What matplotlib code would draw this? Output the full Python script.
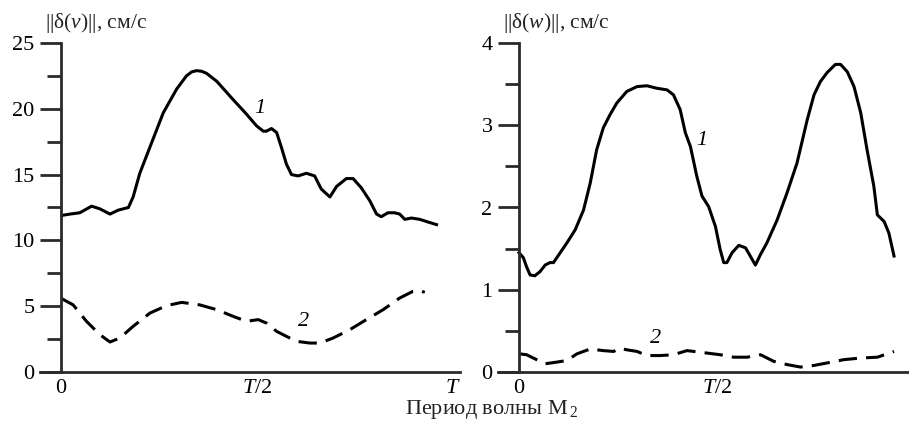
import matplotlib.pyplot as plt
from matplotlib.ticker import MultipleLocator, FixedLocator

plt.rcParams['font.family'] = ['Liberation Serif', 'DejaVu Serif']
plt.rcParams['mathtext.fontset'] = 'custom'
plt.rcParams['mathtext.rm'] = 'Liberation Serif'
plt.rcParams['mathtext.it'] = 'Liberation Serif:italic'

# phase of the M2 period (0..1 -> 0..T)
v1_t = [0.002, 0.023, 0.048, 0.078, 0.099, 0.125, 0.146, 0.172, 0.184, 0.201, 0.227,
        0.261, 0.295, 0.320, 0.333, 0.346, 0.359, 0.371, 0.397, 0.439, 0.473, 0.499,
        0.516, 0.524, 0.537, 0.550, 0.562, 0.575, 0.588, 0.605, 0.626, 0.647, 0.664,
        0.686, 0.703, 0.728, 0.745, 0.766, 0.788, 0.805, 0.817, 0.834, 0.851, 0.864,
        0.877, 0.894, 0.915, 0.936, 0.958]
v1 = [11.9, 12.0, 12.1, 12.6, 12.4, 12.0, 12.3, 12.5, 13.3, 15.1, 17.1,
      19.7, 21.5, 22.5, 22.8, 22.9, 22.85, 22.7, 22.1, 20.7, 19.6, 18.7,
      18.3, 18.3, 18.5, 18.2, 17.1, 15.8, 15.0, 14.9, 15.1, 14.9, 13.9,
      13.3, 14.1, 14.7, 14.7, 14.0, 13.0, 12.0, 11.8, 12.1, 12.1, 12.0,
      11.6, 11.7, 11.6, 11.4, 11.2]

v2_t = [0.002, 0.031, 0.065, 0.099, 0.125, 0.150, 0.184, 0.227, 0.269, 0.308, 0.354,
        0.397, 0.439, 0.473, 0.503, 0.524, 0.550, 0.575, 0.601, 0.635, 0.660, 0.694,
        0.737, 0.779, 0.822, 0.864, 0.898, 0.915, 0.928]
v2 = [5.57, 5.1, 3.85, 2.84, 2.28, 2.58, 3.47, 4.48, 5.04, 5.29, 5.1,
      4.74, 4.23, 3.85, 3.98, 3.72, 3.09, 2.71, 2.33, 2.2, 2.2, 2.58,
      3.22, 3.98, 4.74, 5.62, 6.13, 6.2, 6.05]

w1_t = [0.0, 0.011, 0.019, 0.028, 0.040, 0.053, 0.066, 0.078, 0.087, 0.104, 0.121,
        0.142, 0.163, 0.180, 0.196, 0.213, 0.230, 0.247, 0.272, 0.298, 0.323, 0.348,
        0.374, 0.390, 0.407, 0.420, 0.433, 0.449, 0.462, 0.479, 0.496, 0.508, 0.517,
        0.525, 0.538, 0.555, 0.572, 0.584, 0.597, 0.610, 0.626, 0.652, 0.677, 0.702,
        0.728, 0.745, 0.761, 0.778, 0.799, 0.812, 0.829, 0.846, 0.863, 0.879, 0.896,
        0.905, 0.922, 0.934, 0.947]
w1 = [1.45, 1.39, 1.28, 1.18, 1.17, 1.22, 1.30, 1.33, 1.33, 1.45, 1.57,
      1.73, 1.97, 2.30, 2.70, 2.97, 3.13, 3.27, 3.41, 3.47, 3.48, 3.45,
      3.43, 3.37, 3.19, 2.91, 2.74, 2.38, 2.14, 2.01, 1.77, 1.49, 1.33,
      1.33, 1.45, 1.54, 1.51, 1.41, 1.30, 1.43, 1.57, 1.85, 2.18, 2.54,
      3.07, 3.37, 3.53, 3.64, 3.74, 3.74, 3.65, 3.47, 3.15, 2.70, 2.26,
      1.91, 1.83, 1.69, 1.41]

w2_t = [0.003, 0.019, 0.036, 0.066, 0.095, 0.121, 0.146, 0.180, 0.213, 0.239, 0.255,
        0.272, 0.298, 0.323, 0.357, 0.390, 0.424, 0.441, 0.475, 0.508, 0.542, 0.576,
        0.610, 0.643, 0.677, 0.711, 0.745, 0.778, 0.820, 0.863, 0.905, 0.947]
w2 = [0.22, 0.21, 0.17, 0.10, 0.12, 0.14, 0.22, 0.28, 0.26, 0.25, 0.29,
      0.27, 0.25, 0.20, 0.20, 0.21, 0.26, 0.25, 0.23, 0.21, 0.18, 0.18,
      0.21, 0.13, 0.09, 0.06, 0.08, 0.11, 0.15, 0.17, 0.18, 0.25]

xticks = [0, 0.5, 1.0]
xticklabels = ['0', '$T$/2', '$T$']

W, H = 909, 423
fig = plt.figure(figsize=(W / 100, H / 100), dpi=100)

axis_col = '#2a2a2a'
fs = 16


def setup(ax, ymax, major, minor, ylabel, px_unit, left_px, right_px):
    ax.set_xlim(-left_px / px_unit, right_px / px_unit)
    ax.set_ylim(0, ymax)
    for s in ['top', 'right']:
        ax.spines[s].set_visible(False)
    ax.spines['left'].set_position(('data', 0))
    for s in ['left', 'bottom']:
        ax.spines[s].set_linewidth(2.0)
        ax.spines[s].set_color(axis_col)
    ax.yaxis.set_major_locator(MultipleLocator(major))
    ax.yaxis.set_minor_locator(MultipleLocator(minor))
    ax.tick_params(axis='y', which='major', length=15, width=2.0, color=axis_col,
                   labelsize=fs, pad=4)
    ax.tick_params(axis='y', which='minor', length=10, width=2.0, color=axis_col)
    ax.xaxis.set_major_locator(FixedLocator(xticks))
    ax.set_xticklabels(xticklabels)
    ax.tick_params(axis='x', length=0, labelsize=fs, pad=5)
    ax.text(0.012, 1.025, ylabel, transform=ax.transAxes, fontsize=fs - 0.5,
            ha='left', va='bottom', color='#222222')


ax1 = fig.add_axes([40 / W, 51 / H, 420 / W, 329 / H])
setup(ax1, 25, 5, 2.5, '||δ($v$)||, см/с', 392, 21, 399)
ax1.plot(v1_t, v1, color='black', lw=2.2, solid_joinstyle='round')
ax1.plot(v2_t, v2, color='black', lw=2.2, dashes=(6, 3))
ax1.text(0.507, 20.05, '1', fontsize=fs, style='italic', ha='center', va='center')
ax1.text(0.618, 3.85, '2', fontsize=fs, style='italic', ha='center', va='center')

ax2 = fig.add_axes([498 / W, 51 / H, 424 / W, 329 / H])
setup(ax2, 4, 1, 0.5, '||δ($w$)||, см/с', 396, 21, 403)
ax2.plot(w1_t, w1, color='black', lw=2.2, solid_joinstyle='round')
ax2.plot(w2_t, w2, color='black', lw=2.2, dashes=(6, 3))
ax2.text(0.462, 2.82, '1', fontsize=fs, style='italic', ha='center', va='center')
ax2.text(0.344, 0.41, '2', fontsize=fs, style='italic', ha='center', va='center')

fig.text(492 / W, 1 - 409 / H, r'Период волны M$\,_2$', fontsize=fs, ha='center',
         va='center', color='#222222')

fig.savefig('out.png', dpi=100)
